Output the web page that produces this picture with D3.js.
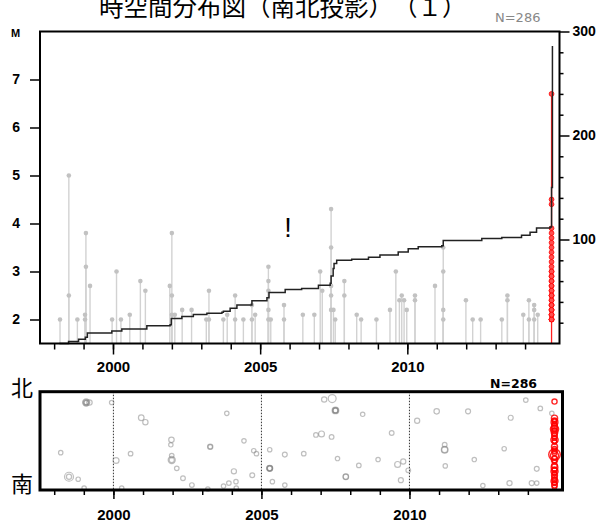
<!DOCTYPE html>
<html>
<head>
<meta charset="utf-8">
<script src="https://cdn.jsdelivr.net/npm/d3@7"></script>
<style>
  body { margin: 0; background: #fff; }
  svg { display: block; }
  .cjk { text-spacing-trim: space-all; font-feature-settings: "chws" 0, "halt" 0; }
</style>
</head>
<body>
<script>
// upper panel: events outside the swarm (decimal year, magnitude)
const eventYears = [1998.20, 1998.50, 1998.50, 1998.79, 1999.05, 1999.05, 1999.08, 1999.08, 1999.22, 1999.97,
  2000.12, 2000.27, 2000.57, 2000.93, 2001.10, 2001.93, 2002.00, 2002.00, 2002.00, 2002.10,
  2002.35, 2002.67, 2003.17, 2003.26, 2003.26, 2003.75, 2003.88, 2004.15, 2004.15, 2004.43,
  2004.72, 2004.72, 2004.83, 2005.28, 2005.28, 2005.28, 2005.28, 2005.28, 2005.36, 2005.81,
  2005.81, 2006.45, 2006.84, 2007.04, 2007.11, 2007.41, 2007.41, 2007.41, 2007.41, 2007.41,
  2007.49, 2007.55, 2007.86, 2007.86, 2008.28, 2008.43, 2008.95, 2009.41, 2009.61, 2009.73,
  2009.81, 2009.89, 2009.98, 2010.26, 2010.26, 2010.94, 2011.22, 2011.22, 2011.22, 2011.22,
  2011.99, 2012.22, 2012.49, 2013.21, 2013.40, 2013.40, 2013.94, 2014.13, 2014.13, 2014.31,
  2014.31, 2014.31, 2014.43];
const eventMags = [2.0, 5.0, 2.5, 2.0, 2.0, 2.1, 3.8, 3.1, 2.7, 2.0,
  3.0, 2.0, 2.1, 2.8, 2.6, 2.7, 3.8, 2.5, 2.1, 2.1,
  2.2, 2.2, 2.0, 2.6, 2.0, 2.0, 2.1, 2.5, 2.0, 2.0,
  2.3, 2.0, 2.1, 3.1, 2.8, 2.6, 2.2, 2.0, 2.0, 2.3,
  2.0, 2.1, 2.1, 3.0, 2.6, 4.3, 3.5, 2.7, 2.5, 2.2,
  2.2, 2.0, 2.8, 2.5, 2.1, 2.0, 2.0, 2.2, 3.0, 2.4,
  2.5, 2.4, 2.2, 2.5, 2.4, 2.7, 3.5, 3.0, 2.2, 2.0,
  2.4, 2.0, 2.0, 2.0, 2.5, 2.4, 2.1, 2.4, 2.0, 2.3,
  2.2, 2.0, 2.1];

// the recent swarm (red), one date, magnitude and north-south position
const swarmYear = 2014.90;
const swarmMags = [2.5, 3.2, 2.2, 3.6, 2.4, 2.9, 3.0, 2.1, 3.4, 2.6,
  2.8, 2.3, 3.9, 2.0, 3.1, 2.2, 2.7, 2.5, 6.7, 4.5,
  4.4, 2.0, 3.3, 2.1, 2.8, 3.5, 2.3, 3.8, 2.0, 3.0,
  2.6, 2.4, 3.7, 2.2, 2.9, 2.0, 2.1, 2.3, 2.7, 2.5];
const swarmNs = [0.90, 0.73, 0.71, 0.69, 0.67, 0.65, 0.63, 0.61, 0.59, 0.57,
  0.55, 0.53, 0.51, 0.49, 0.44, 0.42, 0.40, 0.38, 0.36, 0.62,
  0.35, 0.33, 0.31, 0.29, 0.25, 0.23, 0.21, 0.19, 0.17, 0.15,
  0.13, 0.11, 0.09, 0.07, 0.05, 0.03, 0.70, 0.50, 0.20, 0.10];

// cumulative number of events (right axis)
const cumYears = [1998.18, 1998.49, 1998.83, 1999.06, 1999.13, 1999.96, 2000.30, 2001.15, 2001.94, 2001.98,
  2002.34, 2002.73, 2003.19, 2003.70, 2003.75, 2003.98, 2004.21, 2004.72, 2005.23, 2005.30,
  2005.85, 2006.41, 2006.98, 2007.38, 2007.41, 2007.48, 2007.51, 2007.60, 2008.11, 2008.68,
  2009.07, 2009.69, 2010.03, 2010.37, 2011.17, 2011.22, 2012.53, 2013.21, 2013.88, 2014.17,
  2014.39, 2014.85, 2014.90, 2014.93];
const cumCounts = [0, 2, 4, 6, 10, 12, 14, 17, 18, 24,
  26, 28, 29, 30, 31, 34, 37, 41, 44, 49,
  52, 53, 56, 58, 65, 72, 77, 80, 81, 83,
  85, 88, 91, 93, 94, 99, 101, 102, 104, 107,
  111, 112, 150, 286];

// lower panel: gray events (decimal year, north-south position 0=south..1=north, magnitude)
const nsYears = [1998.22, 1998.50, 1998.50, 1998.81, 1999.01, 1999.08, 1999.08, 1999.08, 1999.08, 1999.19,
  1999.94, 2000.09, 2000.28, 2000.58, 2000.94, 2001.08, 2001.94, 2001.96, 2001.97, 2001.97,
  2001.97, 2002.14, 2002.35, 2002.65, 2003.19, 2003.27, 2003.27, 2003.72, 2003.83, 2003.90,
  2004.07, 2004.14, 2004.15, 2004.41, 2004.69, 2004.74, 2004.83, 2005.28, 2005.28, 2005.28,
  2005.28, 2005.28, 2005.37, 2005.79, 2005.79, 2006.43, 2006.84, 2007.03, 2007.12, 2007.37,
  2007.39, 2007.50, 2007.50, 2007.50, 2007.50, 2007.57, 2007.85, 2007.85, 2008.29, 2008.42,
  2008.94, 2009.40, 2009.60, 2009.71, 2009.79, 2009.96, 2010.26, 2010.92, 2011.19, 2011.19,
  2011.19, 2011.21, 2011.98, 2012.19, 2012.48, 2013.20, 2013.38, 2013.42, 2013.93, 2014.13,
  2014.30, 2014.30, 2014.42, 2014.81];
const nsPos = [0.38, 0.135, 0.135, 0.11, 0.02, 0.89, 0.89, 0.89, 0.89, 0.89,
  0.89, 0.30, 0.02, 0.37, 0.735, 0.69, 0.46, 0.51, 0.35, 0.305,
  0.305, 0.22, 0.12, 0.05, 0.01, 0.44, 0.44, 0.04, 0.78, 0.07,
  0.19, 0.085, 0.02, 0.50, 0.15, 0.40, 0.37, 0.41, 0.22, 0.22,
  0.22, 0.22, 0.085, 0.36, 0.05, 0.37, 0.56, 0.57, 0.92, 0.54,
  0.93, 0.81, 0.81, 0.81, 0.81, 0.32, 0.135, 0.135, 0.25, 0.77,
  0.31, 0.58, 0.26, 0.10, 0.29, 0.20, 0.705, 0.80, 0.46, 0.41,
  0.41, 0.245, 0.80, 0.31, 0.045, 0.42, 0.07, 0.735, 0.915, 0.07,
  0.07, 0.215, 0.83, 0.78];
const nsMags = [2.0, 5.0, 2.5, 2.0, 2.0, 3.8, 3.1, 2.1, 2.0, 2.7,
  2.0, 3.0, 2.0, 2.1, 2.8, 2.6, 2.0, 2.7, 2.1, 3.8,
  2.5, 2.1, 2.2, 2.2, 2.0, 2.6, 2.0, 2.0, 2.0, 2.1,
  2.5, 2.0, 2.0, 2.0, 2.3, 2.0, 2.1, 2.0, 3.1, 2.8,
  2.6, 2.2, 2.0, 2.3, 2.0, 2.1, 2.1, 3.0, 2.6, 2.2,
  4.3, 3.5, 2.7, 2.5, 2.2, 2.0, 2.8, 2.5, 2.1, 2.0,
  2.0, 2.2, 3.0, 2.4, 2.5, 2.2, 2.5, 2.7, 2.2, 3.5,
  3.0, 2.0, 2.4, 2.0, 2.0, 2.0, 2.5, 2.4, 2.1, 2.4,
  2.0, 2.3, 2.1, 2.0];

// tick labels
const yearTicks = d3.range(1998, 2015);
const yearLabels = [2000, 2005, 2010];
const magTicks = [2, 3, 4, 5, 6, 7];
const countTicks = [100, 200, 300];
const countMinor = [20, 40, 60, 80, 120, 140, 160, 180, 220, 240, 260, 280];
const total = 286;

const svg = d3.select("body").append("svg")
    .attr("width", 603)
    .attr("height", 522);

const axisFont = "'Liberation Sans', Arial, sans-serif";

// scales
const xTop = d3.scaleLinear().domain([1997.52, 2015.17]).range([40, 559.5]);
const yMag = d3.scaleLinear().domain([1.5, 8]).range([343.5, 31.5]);
const yCum = d3.scaleLinear().domain([0, 300]).range([343.5, 31.5]);
const xBot = d3.scaleLinear().domain([1997.52, 2015.17]).range([40, 562.5]);
const yNs = d3.scaleLinear().domain([0, 1]).range([490, 391.7]);
const rMag = d3.scaleLinear().domain([2, 7]).range([2.2, 6]).clamp(true);

// title (cut at the top edge, as in the original)
svg.append("text")
    .attr("class", "cjk")
    .attr("x", 99).attr("y", 16)
    .attr("font-family", "'Noto Sans CJK JP', sans-serif")
    .attr("font-size", 24.5)
    .text("時空間分布図（南北投影）（１）");

svg.append("text")
    .attr("x", 495).attr("y", 22)
    .attr("font-family", "'DejaVu Sans', sans-serif")
    .attr("font-size", 13)
    .attr("fill", "#888")
    .text("N=" + total);

// ---------- upper panel ----------
const events = eventYears.map((y, i) => ({year: y, mag: eventMags[i]}));

svg.append("g").selectAll("line")
    .data(events)
    .enter()
    .append("line")
    .attr("x1", d => xTop(d.year)).attr("x2", d => xTop(d.year))
    .attr("y1", yMag(1.5)).attr("y2", d => yMag(d.mag))
    .attr("stroke", "#d2d2d2")
    .attr("stroke-width", 1.4);

svg.append("g").selectAll("circle")
    .data(events)
    .enter()
    .append("circle")
    .attr("cx", d => xTop(d.year))
    .attr("cy", d => yMag(d.mag))
    .attr("r", 2.3)
    .attr("fill", "#c2c2c2");

// swarm stem and markers
svg.append("line")
    .attr("x1", xTop(swarmYear)).attr("x2", xTop(swarmYear))
    .attr("y1", yMag(1.5)).attr("y2", yMag(d3.max(swarmMags)))
    .attr("stroke", "#ff2020")
    .attr("stroke-width", 1.3);

svg.append("g").selectAll("circle")
    .data(swarmMags)
    .enter()
    .append("circle")
    .attr("cx", xTop(swarmYear))
    .attr("cy", d => yMag(d))
    .attr("r", 2.4)
    .attr("fill", "#ff5050")
    .attr("stroke", "#ff0000")
    .attr("stroke-width", 0.8);

// cumulative count
const cum = cumYears.map((y, i) => [y, cumCounts[i]]);
svg.append("path")
    .datum(cum)
    .attr("fill", "none")
    .attr("stroke", "#222")
    .attr("stroke-width", 1.5)
    .attr("d", d3.line().x(d => xTop(d[0])).y(d => yCum(d[1])).curve(d3.curveStepAfter));

svg.append("text")
    .attr("x", 288).attr("y", 237)
    .attr("text-anchor", "middle")
    .attr("font-family", axisFont)
    .attr("font-size", 27)
    .text("!");

// axes of the upper panel
function styleAxis(g, size) {
  g.select(".domain").remove();
  g.attr("font-family", axisFont).attr("font-size", size).attr("font-weight", "bold");
  g.selectAll(".tick line").attr("stroke", "#000").attr("stroke-width", 1.5);
  g.selectAll(".tick text").attr("fill", "#000");
}

svg.append("g")
    .attr("transform", "translate(40,0)")
    .call(d3.axisLeft(yMag).tickValues(magTicks).tickSize(10).tickPadding(10).tickFormat(d3.format("d")))
    .call(g => styleAxis(g, 14));

svg.append("g")
    .attr("transform", "translate(559.5,0)")
    .call(d3.axisRight(yCum).tickValues(countTicks).tickSize(10).tickPadding(3).tickFormat(d3.format("d")))
    .call(g => styleAxis(g, 14));

svg.append("g")
    .attr("transform", "translate(559.5,0)")
    .call(d3.axisRight(yCum).tickValues(countMinor).tickSize(4).tickFormat(""))
    .call(g => styleAxis(g, 14));

svg.append("g")
    .attr("transform", "translate(0,343.5)")
    .call(d3.axisBottom(xTop).tickValues(yearTicks).tickSize(6).tickFormat(""))
    .call(g => styleAxis(g, 15));

svg.append("g")
    .attr("transform", "translate(0,343.5)")
    .call(d3.axisBottom(xTop).tickValues(yearLabels).tickSize(11).tickPadding(7).tickFormat(d3.format("d")))
    .call(g => styleAxis(g, 15));

svg.append("rect")
    .attr("x", 40).attr("y", 31.5)
    .attr("width", 519.5).attr("height", 312)
    .attr("fill", "none")
    .attr("stroke", "#000")
    .attr("stroke-width", 2);

svg.append("text")
    .attr("x", 11).attr("y", 37)
    .attr("font-family", axisFont)
    .attr("font-size", 11)
    .attr("font-weight", "bold")
    .text("M");

// ---------- lower panel ----------
svg.append("g").selectAll("line")
    .data(yearLabels)
    .enter()
    .append("line")
    .attr("x1", d => xBot(d)).attr("x2", d => xBot(d))
    .attr("y1", yNs(1)).attr("y2", yNs(0))
    .attr("stroke", "#333")
    .attr("stroke-width", 1)
    .attr("stroke-dasharray", "1.5,1.5");

const nsEvents = nsYears.map((y, i) => ({year: y, pos: nsPos[i], mag: nsMags[i]}));
svg.append("g").selectAll("circle")
    .data(nsEvents)
    .enter()
    .append("circle")
    .attr("cx", d => xBot(d.year))
    .attr("cy", d => yNs(d.pos))
    .attr("r", d => rMag(d.mag))
    .attr("fill", "none")
    .attr("stroke", "#808080")
    .attr("stroke-opacity", 0.5)
    .attr("stroke-width", 1.2);

const swarm = swarmMags.map((m, i) => ({mag: m, pos: swarmNs[i]}));
svg.append("g").selectAll("circle")
    .data(swarm)
    .enter()
    .append("circle")
    .attr("cx", xBot(swarmYear))
    .attr("cy", d => yNs(d.pos))
    .attr("r", d => rMag(d.mag))
    .attr("fill", "none")
    .attr("stroke", "#ff0000")
    .attr("stroke-opacity", 0.85)
    .attr("stroke-width", 1.4);

svg.append("g")
    .attr("transform", "translate(0,490)")
    .call(d3.axisBottom(xBot).tickValues(yearTicks).tickSize(5).tickFormat(""))
    .call(g => styleAxis(g, 15));

svg.append("g")
    .attr("transform", "translate(0,490)")
    .call(d3.axisBottom(xBot).tickValues(yearLabels).tickSize(9).tickPadding(10).tickFormat(d3.format("d")))
    .call(g => styleAxis(g, 15));

svg.append("rect")
    .attr("x", 40).attr("y", 391.7)
    .attr("width", 522.5).attr("height", 98.3)
    .attr("fill", "none")
    .attr("stroke", "#000")
    .attr("stroke-width", 3);

svg.append("text")
    .attr("x", 490).attr("y", 388)
    .attr("font-family", "'DejaVu Sans', sans-serif")
    .attr("font-size", 12.5)
    .attr("font-weight", "bold")
    .text("N=" + total);

svg.append("text")
    .attr("x", 11).attr("y", 395.5)
    .attr("font-family", "'Noto Sans CJK JP', sans-serif")
    .attr("font-size", 22)
    .text("北");

svg.append("text")
    .attr("x", 11).attr("y", 492)
    .attr("font-family", "'Noto Sans CJK JP', sans-serif")
    .attr("font-size", 22)
    .text("南");
</script>
</body>
</html>
